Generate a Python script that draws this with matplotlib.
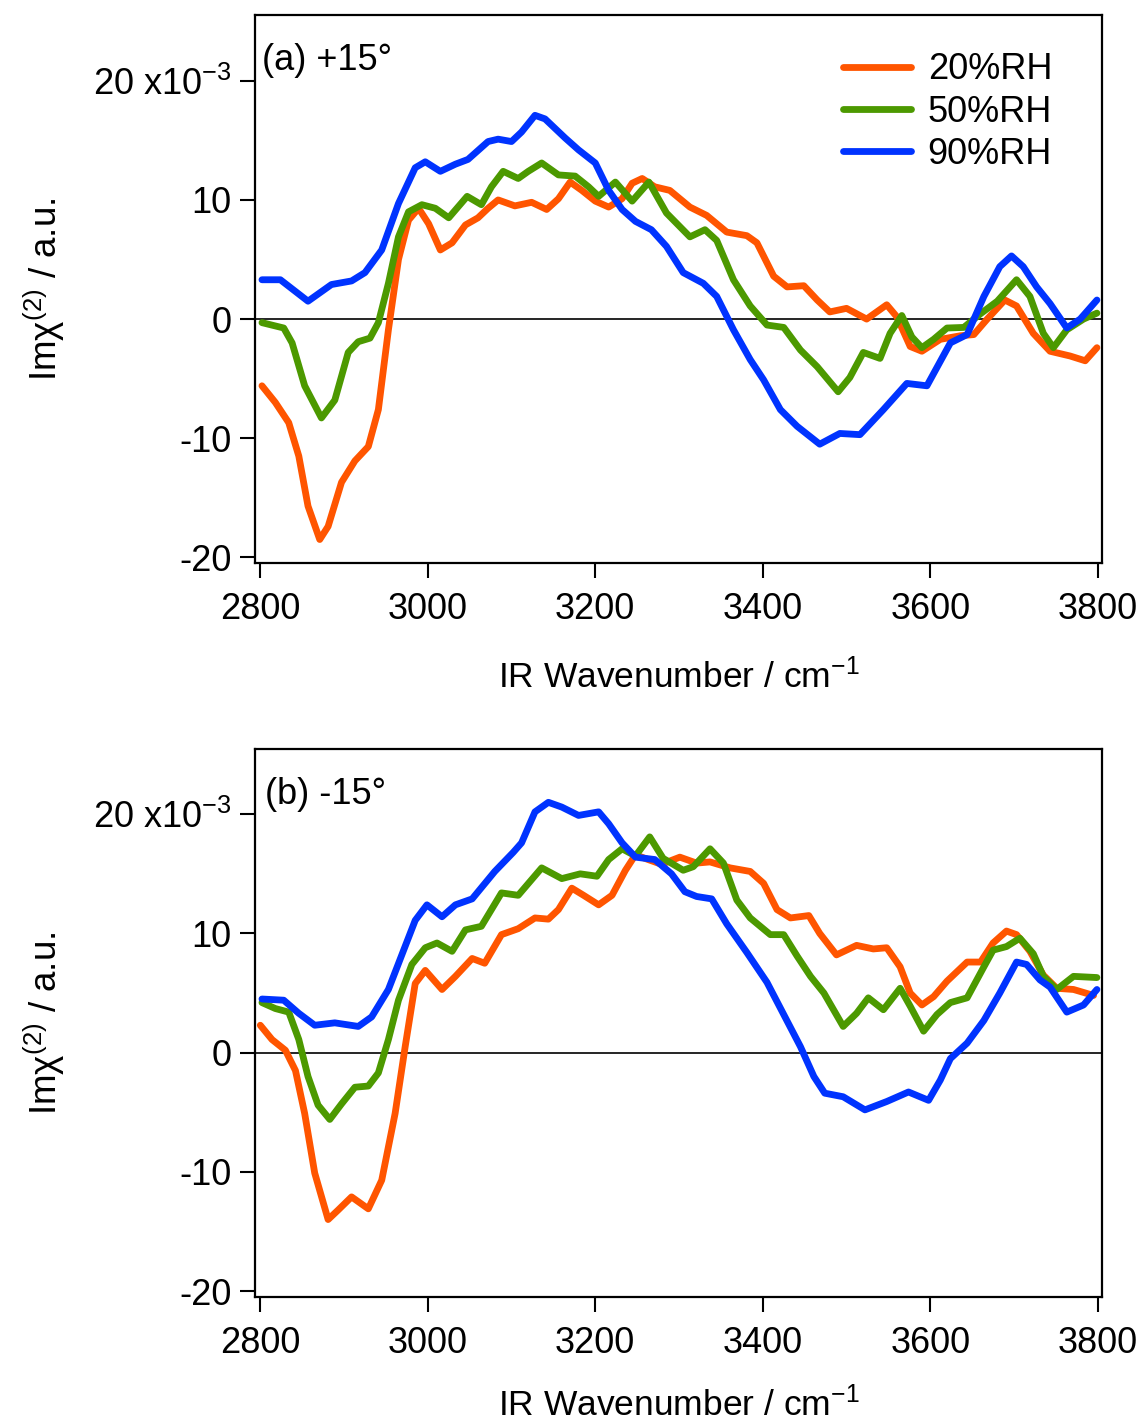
import matplotlib
matplotlib.use("Agg")
import matplotlib.pyplot as plt

plt.rcParams['font.family'] = ['Liberation Sans', 'DejaVu Sans']
plt.rcParams['mathtext.fontset'] = 'custom'
plt.rcParams['mathtext.rm'] = 'Liberation Sans'
plt.rcParams['mathtext.it'] = 'Liberation Sans:italic'

labels = ['20%RH', '50%RH', '90%RH']
colors = ['#FF5500', '#4C9900', '#0033FF']

# panel (a) +15 deg, values in 1e-3 a.u.
wn_a_20 = [2802, 2818, 2834, 2846, 2857, 2871, 2881, 2897, 2913, 2929, 2941, 2953, 2965, 2977, 2989, 3001,
           3015, 3029, 3045, 3060, 3072, 3084, 3104, 3124, 3142, 3156, 3170, 3184, 3200, 3216, 3232, 3244,
           3256, 3271, 3289, 3313, 3333, 3357, 3381, 3393, 3413, 3429, 3449, 3465, 3480, 3500, 3524, 3548,
           3560, 3576, 3590, 3612, 3636, 3652, 3668, 3689, 3703, 3723, 3743, 3767, 3785, 3799]
im_a_20 = [-5.6, -7.0, -8.7, -11.5, -15.7, -18.5, -17.4, -13.7, -11.9, -10.7, -7.6, -0.9, 5.0, 8.3, 9.3, 8.0,
           5.8, 6.4, 7.9, 8.5, 9.3, 10.0, 9.5, 9.8, 9.2, 10.1, 11.5, 10.8, 9.9, 9.4, 10.1, 11.4,
           11.8, 11.1, 10.8, 9.4, 8.7, 7.3, 7.0, 6.4, 3.6, 2.7, 2.8, 1.6, 0.6, 0.9, 0.0, 1.2,
           0.2, -2.3, -2.7, -1.7, -1.4, -1.3, 0.0, 1.6, 1.1, -1.2, -2.7, -3.1, -3.5, -2.4]

wn_a_50 = [2802, 2828, 2838, 2853, 2873, 2889, 2905, 2917, 2931, 2941, 2953, 2965, 2977, 2993, 3009, 3025,
           3047, 3064, 3076, 3090, 3108, 3120, 3136, 3156, 3176, 3192, 3204, 3224, 3244, 3264, 3285, 3313,
           3331, 3345, 3365, 3385, 3405, 3425, 3445, 3465, 3490, 3504, 3520, 3540, 3552, 3566, 3578, 3590,
           3604, 3620, 3640, 3660, 3680, 3703, 3719, 3735, 3747, 3763, 3783, 3799]
im_a_50 = [-0.3, -0.75, -2.0, -5.6, -8.3, -6.8, -2.8, -1.9, -1.6, -0.3, 3.0, 6.9, 9.0, 9.6, 9.3, 8.5,
           10.3, 9.6, 11.1, 12.4, 11.8, 12.4, 13.1, 12.1, 12.0, 11.1, 10.3, 11.5, 9.9, 11.5, 8.9, 6.9,
           7.5, 6.6, 3.3, 1.1, -0.5, -0.7, -2.6, -4.0, -6.1, -4.9, -2.8, -3.3, -1.2, 0.3, -1.5, -2.4,
           -1.7, -0.75, -0.7, 0.45, 1.5, 3.3, 1.9, -1.2, -2.4, -0.9, 0.0, 0.5]

wn_a_90 = [2802, 2824, 2857, 2885, 2909, 2925, 2945, 2965, 2985, 2997, 3015, 3033, 3048, 3072, 3084, 3100,
           3112, 3128, 3140, 3164, 3180, 3200, 3216, 3232, 3248, 3267, 3285, 3305, 3329, 3345, 3365, 3385,
           3401, 3421, 3441, 3468, 3492, 3516, 3544, 3572, 3596, 3624, 3644, 3664, 3683, 3697, 3711, 3727,
           3743, 3763, 3779, 3799]
im_a_90 = [3.3, 3.3, 1.5, 2.9, 3.2, 3.9, 5.8, 9.7, 12.7, 13.2, 12.4, 13.0, 13.4, 14.9, 15.1, 14.9,
           15.7, 17.1, 16.8, 15.2, 14.2, 13.1, 10.8, 9.2, 8.2, 7.5, 6.1, 3.9, 3.0, 1.9, -0.9, -3.4,
           -5.1, -7.6, -9.0, -10.5, -9.6, -9.7, -7.6, -5.4, -5.6, -2.0, -1.3, 1.9, 4.4, 5.3, 4.4, 2.7,
           1.3, -0.75, 0.0, 1.6]

# panel (b) -15 deg
wn_b_20 = [2800, 2814, 2830, 2842, 2853, 2865, 2881, 2893, 2909, 2929, 2945, 2961, 2973, 2985, 2997, 3017,
           3033, 3053, 3068, 3088, 3108, 3128, 3144, 3156, 3172, 3186, 3204, 3220, 3236, 3248, 3263, 3279,
           3301, 3321, 3337, 3361, 3385, 3401, 3417, 3433, 3455, 3468, 3488, 3512, 3532, 3548, 3564, 3576,
           3590, 3604, 3620, 3644, 3660, 3675, 3691, 3703, 3719, 3735, 3751, 3771, 3795]
im_b_20 = [2.3, 1.1, 0.2, -1.5, -5.1, -10.1, -14.0, -13.2, -12.1, -13.1, -10.7, -5.1, 0.5, 5.8, 6.9, 5.3,
           6.4, 7.9, 7.5, 9.9, 10.4, 11.3, 11.2, 12.0, 13.8, 13.2, 12.4, 13.2, 15.3, 16.6, 16.2, 15.8,
           16.4, 15.9, 16.0, 15.5, 15.2, 14.2, 12.0, 11.3, 11.5, 10.0, 8.2, 9.0, 8.7, 8.8, 7.2, 5.0,
           4.0, 4.7, 6.0, 7.6, 7.6, 9.2, 10.2, 9.9, 8.5, 6.5, 5.4, 5.3, 4.8]

wn_b_50 = [2802, 2818, 2834, 2846, 2857, 2869, 2883, 2897, 2913, 2929, 2941, 2953, 2965, 2981, 2997, 3011,
           3029, 3045, 3064, 3088, 3108, 3136, 3160, 3182, 3202, 3216, 3232, 3248, 3265, 3281, 3305, 3317,
           3337, 3353, 3369, 3385, 3409, 3425, 3441, 3457, 3473, 3496, 3512, 3526, 3544, 3564, 3576, 3592,
           3608, 3624, 3644, 3664, 3675, 3691, 3707, 3723, 3735, 3751, 3771, 3799]
im_b_50 = [4.2, 3.7, 3.4, 1.1, -2.0, -4.4, -5.6, -4.3, -2.9, -2.8, -1.7, 1.1, 4.4, 7.4, 8.8, 9.2,
           8.5, 10.3, 10.6, 13.4, 13.2, 15.5, 14.6, 15.0, 14.8, 16.2, 17.1, 16.5, 18.1, 16.3, 15.3, 15.6,
           17.1, 15.9, 12.8, 11.3, 9.9, 9.9, 8.1, 6.4, 5.0, 2.2, 3.3, 4.6, 3.6, 5.4, 3.9, 1.8,
           3.2, 4.2, 4.6, 7.2, 8.6, 8.9, 9.6, 8.3, 6.4, 5.3, 6.4, 6.3]

wn_b_90 = [2802, 2828, 2846, 2865, 2889, 2917, 2933, 2953, 2969, 2985, 2999, 3017, 3033, 3053, 3080, 3102,
           3112, 3128, 3144, 3160, 3180, 3204, 3216, 3232, 3248, 3271, 3291, 3307, 3321, 3339, 3357, 3381,
           3405, 3425, 3445, 3461, 3474, 3496, 3522, 3548, 3574, 3598, 3612, 3624, 3644, 3664, 3683, 3703,
           3715, 3731, 3743, 3763, 3783, 3799]
im_b_90 = [4.5, 4.4, 3.3, 2.3, 2.5, 2.2, 3.0, 5.3, 8.2, 11.1, 12.4, 11.4, 12.4, 12.9, 15.2, 16.8,
           17.6, 20.2, 21.0, 20.6, 19.9, 20.2, 19.2, 17.6, 16.4, 16.2, 15.0, 13.5, 13.1, 12.9, 10.8, 8.4,
           5.9, 3.2, 0.5, -2.0, -3.4, -3.7, -4.8, -4.1, -3.3, -4.0, -2.3, -0.5, 0.8, 2.7, 5.0, 7.6,
           7.4, 6.1, 5.5, 3.4, 4.0, 5.3]

xticks = [2800, 3000, 3200, 3400, 3600, 3800]
yticks = [-20, -10, 0, 10, 20]
ytick_labels = ['-20', '-10', '0', '10', '20 x10$^{\\mathrm{-3}}$']

panels = [
    ('(a) +15°', [(wn_a_20, im_a_20), (wn_a_50, im_a_50), (wn_a_90, im_a_90)], (-20.45, 25.5), 0.008, -0.175),
    ('(b) -15°', [(wn_b_20, im_b_20), (wn_b_50, im_b_50), (wn_b_90, im_b_90)], (-20.5, 25.45), 0.012, -0.163),
]

fig = plt.figure(figsize=(11.43, 14.25), dpi=100)
axes = [fig.add_axes([0.2231, 0.6051, 0.741, 0.3842]),
        fig.add_axes([0.2231, 0.0898, 0.741, 0.3844])]

for ax, (title, series, ylim, tx, xl_y) in zip(axes, panels):
    ax.axhline(0, color='black', lw=1.2, zorder=1)
    for (wn, im), lab, c in zip(series, labels, colors):
        ax.plot(wn, im, color=c, lw=4.9, label=lab, solid_joinstyle='round',
                solid_capstyle='round', zorder=2)
    ax.set_xlim(2793.7, 3805)
    ax.set_ylim(*ylim)
    ax.set_xticks(xticks)
    ax.set_yticks(yticks)
    ax.set_yticklabels(ytick_labels)
    ax.tick_params(axis='both', direction='out', length=11, width=1.5, labelsize=26)
    ax.tick_params(axis='x', pad=10)
    ax.tick_params(axis='y', pad=6)
    for sp in ax.spines.values():
        sp.set_linewidth(1.6)
    ax.text(tx, 0.918, title, transform=ax.transAxes, fontsize=26, va='center', ha='left')
    ax.set_xlabel('IR Wavenumber / cm$^{\\mathrm{-1}}$', fontsize=25.5)
    ax.set_ylabel('Imχ$^{(2)}$ / a.u.', fontsize=26.5)
    ax.xaxis.set_label_coords(0.5, xl_y)
    ax.yaxis.set_label_coords(-0.222, 0.5)

leg = axes[0].legend(loc='upper left', bbox_to_anchor=(0.694, 0.932), frameon=False, fontsize=26,
                     handlelength=1.9, handletextpad=0.45, labelspacing=0.2, borderpad=0,
                     borderaxespad=0)
for h in leg.get_lines():
    h.set_linewidth(4.9)

fig.savefig('out.png', dpi=100)
